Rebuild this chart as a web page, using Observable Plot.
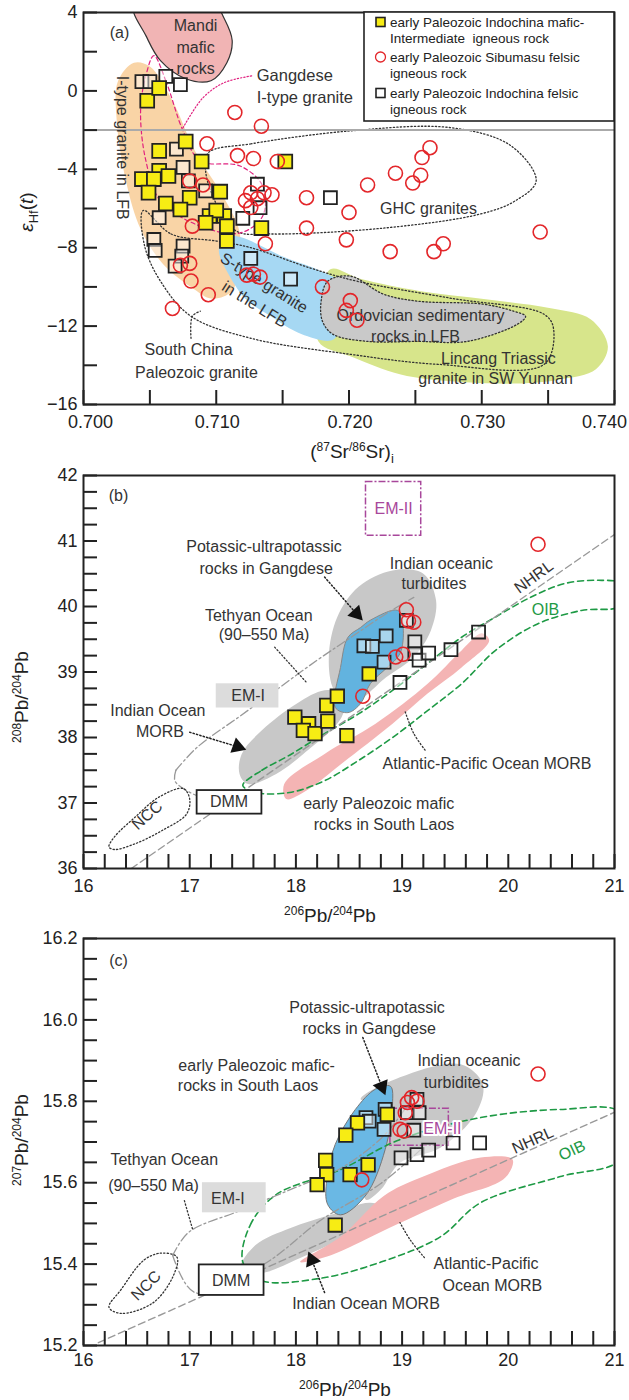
<!DOCTYPE html>
<html><head><meta charset="utf-8">
<script src="https://cdn.jsdelivr.net/npm/d3@7"></script>
<script src="https://cdn.jsdelivr.net/npm/@observablehq/plot@0.6"></script>
<style>
body{margin:0;background:#fff;font-family:"Liberation Sans",Arial,sans-serif;}
#wrap{position:relative;width:629px;height:1400px;overflow:hidden;}
.panel{position:absolute;left:0;}
</style></head>
<body><div id="wrap"></div>
<script>
// ---------------- DATA: panel (a) ----------------
const aTicksXFirst = [0.700];
const aTicksXMid = [0.710, 0.720, 0.730];
const aTicksXLast = [0.740];
const aTicksY = [-16, -12, -8, -4, 0, 4];
const aIndochinaMafic = [[0.7048,-0.5],[0.7057,0.15],[0.7077,-2.58],[0.7057,-3.06],[0.7089,-3.6],[0.7152,-3.6],[0.7057,-4.08],[0.7044,-4.5],[0.7053,-4.5],[0.7064,-4.34],[0.7049,-5.19],[0.7062,-5.75],[0.7080,-5.45],[0.7073,-6.05],[0.7103,-5.14],[0.7095,-6.38],[0.7106,-6.38],[0.7100,-6.1],[0.7092,-6.73],[0.7108,-6.9],[0.7134,-7.0],[0.7108,-7.66]];
const aSibumasuFelsic = [[0.7114,-1.1],[0.7134,-1.8],[0.7093,-2.7],[0.7116,-3.3],[0.7128,-3.45],[0.7146,-3.6],[0.7080,-4.6],[0.7090,-4.8],[0.7126,-5.2],[0.7136,-5.2],[0.7142,-5.3],[0.7131,-5.5],[0.7126,-5.95],[0.7122,-5.6],[0.7168,-5.45],[0.7082,-6.9],[0.7137,-7.8],[0.7168,-7.0],[0.7073,-8.9],[0.7080,-8.8],[0.7081,-9.7],[0.7094,-10.4],[0.7123,-9.4],[0.7128,-9.35],[0.7133,-9.5],[0.7067,-11.1],[0.7261,-2.9],[0.7255,-3.4],[0.7235,-4.2],[0.7254,-4.3],[0.7248,-4.7],[0.7214,-4.8],[0.7200,-6.2],[0.7198,-7.6],[0.7231,-8.2],[0.7264,-8.2],[0.7271,-7.8],[0.7344,-7.2],[0.7180,-10.0],[0.7201,-10.7],[0.7198,-11.2],[0.7206,-11.7]];
const aIndochinaFelsic = [[0.7044,0.47],[0.7050,0.47],[0.7062,0.74],[0.7073,0.32],[0.7070,-2.97],[0.7075,-3.9],[0.7079,-4.59],[0.7057,-6.47],[0.7092,-5.1],[0.7131,-4.76],[0.7133,-5.96],[0.7120,-6.5],[0.7053,-7.58],[0.7054,-8.14],[0.7075,-7.92],[0.7074,-8.43],[0.7069,-8.94],[0.7126,-8.55],[0.7156,-9.6],[0.7186,-5.45]];
// fields (outline points, data units)
const aMandi = [[0.7038,4.3],[0.7047,2.82],[0.7058,1.54],[0.7077,0.62],[0.7096,0.52],[0.7108,1.44],[0.7112,2.57],[0.7106,3.69],[0.7100,4.3],[0.7070,4.6]];
const aITypeLFB = [[0.7038,1.44],[0.7050,1.24],[0.7067,-0.5],[0.7084,-3.06],[0.7105,-5.36],[0.7117,-7.05],[0.7118,-8.43],[0.7112,-10.2],[0.7097,-10.6],[0.7081,-10.0],[0.7060,-8.84],[0.7043,-7.05],[0.7032,-4.6],[0.7025,-1.5],[0.7026,0.5]];
const aSTypeLFB = [[0.7105,-7.4],[0.7118,-7.46],[0.7151,-8.48],[0.7179,-9.2],[0.7197,-9.96],[0.7194,-11.75],[0.7188,-12.7],[0.7164,-12.4],[0.7141,-11.5],[0.7122,-10.6],[0.7108,-9.2],[0.7102,-8.2]];
const aLincang = [[0.7186,-9.1],[0.7209,-9.6],[0.7254,-10.22],[0.7303,-10.63],[0.7352,-11.09],[0.7382,-11.65],[0.7395,-13.03],[0.7386,-14.2],[0.7359,-14.72],[0.7327,-14.93],[0.7277,-14.82],[0.7239,-14.47],[0.7201,-13.54],[0.7177,-12.78],[0.7179,-10.73]];
const aOrdovician = [[0.7179,-10.73],[0.7184,-9.71],[0.7201,-9.45],[0.7226,-10.37],[0.7252,-10.73],[0.7301,-10.88],[0.7324,-11.24],[0.7333,-11.5],[0.7327,-11.9],[0.7289,-12.78],[0.7252,-12.78],[0.7214,-12.78],[0.7188,-12.42],[0.7180,-11.75]];
const aSouthChina = [[0.7045,-6.1],[0.7066,-7.3],[0.7100,-7.66],[0.7126,-8.0],[0.7171,-9.04],[0.7206,-9.71],[0.7277,-10.58],[0.7347,-11.4],[0.7354,-12.1],[0.7347,-13.95],[0.7267,-13.95],[0.7201,-13.44],[0.7126,-12.62],[0.7081,-11.5],[0.7058,-9.71],[0.7046,-7.9]];
const aGHC = [[0.7094,-3.16],[0.7126,-2.7],[0.7201,-2.04],[0.7277,-1.88],[0.7322,-2.8],[0.7341,-4.59],[0.7325,-5.62],[0.7299,-6.28],[0.7226,-7.0],[0.7141,-7.3],[0.7115,-7.15],[0.7099,-5.62],[0.7092,-4.08]];
const aGangdese = [[0.7053,1.8],[0.7062,0.52],[0.7075,-2.04],[0.7088,-3.57],[0.7118,-3.83],[0.7135,-4.85],[0.7135,-6.38],[0.7118,-7.25],[0.7088,-6.9],[0.7058,-5.62],[0.7047,-3.57],[0.7043,-1.01],[0.7047,0.78]];
const aGangdeseLeader = [[0.7075,-1.88],[0.7090,-0.35],[0.7106,0.42],[0.7128,0.78]];
const aSouthChinaLeader = [[0.7081,-12.62],[0.7082,-11.5],[0.7088,-11.24]];
const aLevel = [-2];
const aLabels = [[0.70271,2.98,"(a)"],[0.70844,3.34,"Mandi"],[0.70844,2.21,"mafic"],[0.70844,1.14,"rocks"],[0.72599,-6.03,"GHC granites"],[0.72539,-11.5,"Ordovician sedimentary"],[0.72501,-12.57,"rocks in LFB"],[0.73126,-13.65,"Lincang Triassic"],[0.73104,-14.67,"granite in SW Yunnan"],[0.70791,-13.19,"South China"],[0.70851,-14.41,"Paleozoic granite"]];
const aLabelsStart = [[0.71305,0.78,"Gangdese"],[0.71305,-0.33,"I-type granite"]];
const aLabelsVertical = [[0.70294,-2.9,"I-type granite in LFB"]];
const aLabelsSType = [[0.7136,-9.8,"S-type granite"],[0.71288,-10.9,"in the LFB"]];

// ---------------- DATA: panel (b) ----------------
const pbTicksX = [16, 17, 18, 19, 20, 21];
const bTicksY = [36, 37, 38, 39, 40, 41, 42];
const bIndochinaMafic = [[17.99,38.31],[18.12,38.21],[18.07,38.11],[18.18,38.06],[18.30,38.25],[18.29,38.49],[18.39,38.63],[18.48,38.03],[18.69,38.97]];
const bIndochinaFelsic = [[18.64,39.40],[18.72,39.39],[18.85,39.55],[18.83,39.15],[18.98,38.84],[19.04,39.79],[19.12,39.46],[19.12,39.28],[19.16,39.18],[19.25,39.29],[19.46,39.34],[19.72,39.61]];
const bSibumasuFelsic = [[19.04,39.95],[19.06,39.78],[19.11,39.76],[18.94,39.23],[19.01,39.27],[18.63,38.63],[20.28,40.95]];
const bTurbidites = [[18.39,39.84],[18.59,40.3],[18.91,40.55],[19.20,40.5],[19.32,40.09],[19.27,39.63],[19.11,39.23],[18.85,38.92],[18.52,38.51],[18.36,38.72],[18.31,39.23]];
const bPotassic = [[18.96,39.94],[19.01,39.68],[18.98,39.28],[18.86,39.07],[18.70,38.82],[18.61,38.52],[18.49,38.38],[18.37,38.46],[18.42,39.07],[18.49,39.53],[18.61,39.68],[18.70,39.79]];
const bIndianMORB = [[17.47,37.44],[17.49,37.75],[17.68,38.11],[18.01,38.52],[18.27,38.72],[18.46,38.67],[18.43,38.31],[18.07,37.75],[17.81,37.44],[17.55,37.29]];
const bAtlPacMORB = [[17.91,37.06],[17.89,37.29],[18.27,37.75],[18.75,38.21],[19.24,38.82],[19.56,39.33],[19.75,39.59],[19.82,39.48],[19.56,39.07],[19.24,38.67],[18.91,38.21],[18.43,37.6],[18.10,37.19]];
const bOIB = [[17.50,37.27],[17.68,37.5],[17.94,37.73],[18.27,38.06],[18.59,38.36],[18.91,38.72],[19.24,39.13],[19.56,39.53],[19.88,39.84],[20.21,40.14],[20.53,40.35],[20.85,40.4],[21.05,40.35],[21.05,40.01],[20.69,39.94],[20.27,39.73],[19.88,39.33],[19.56,38.82],[19.24,38.41],[18.91,38.0],[18.59,37.65],[18.27,37.34],[17.94,37.16],[17.62,37.16]];
const bNCC = [[16.24,36.33],[16.29,36.48],[16.49,36.79],[16.71,37.09],[16.94,37.22],[17.0,37.06],[16.97,36.83],[16.74,36.58],[16.49,36.38],[16.29,36.29]];
const bNHRL = [[16.45,36.0],[21.0,41.1]];
const bTethyanUpper = [[16.87,37.50],[17.07,37.85],[17.46,38.31],[17.81,38.72],[18.20,39.18],[18.52,39.53],[18.85,39.89],[19.11,40.14]];
const bTethyanLower = [[16.87,37.50],[16.86,37.34],[16.97,37.19],[17.07,37.11]];
const bDMM = [17.07, 17.68, 36.83, 37.19];
const bEM1 = [17.25, 17.84, 38.45, 38.82];
const bEM2 = [18.66, 19.18, 41.08, 41.9];
const bArrowPotassic = [[18.27,40.45],[18.57,39.89]];
const bArrowIndianMORB = [[17.0,38.08],[17.45,37.86]];
const bLeaderTethyan = [[17.80,39.38],[18.10,38.84]];
const bLeaderAtlPac = [[19.03,38.39],[19.11,38.06],[19.22,37.80]];
const bLabels = [[16.33,41.69,"(b)"],[17.70,40.91,"Potassic-ultrapotassic"],[17.72,40.58,"rocks in Gangdese"],[19.37,40.65,"Indian oceanic"],[19.30,40.35,"turbidites"],[17.65,39.86,"Tethyan Ocean"],[17.70,39.56,"(90–550 Ma)"],[17.55,38.64,"EM-I"],[16.70,38.41,"Indian Ocean"],[16.72,38.08,"MORB"],[19.80,37.6,"Atlantic-Pacific Ocean MORB"],[18.78,36.99,"early Paleozoic mafic"],[18.83,36.66,"rocks in South Laos"],[17.37,37.01,"DMM"]];
const bLabelEM2 = [[18.92,41.49,"EM-II"]];
const bLabelOIB = [[20.35,39.95,"OIB"]];
const bLabelNHRL = [[20.24,40.45,"NHRL"]];
const bLabelNCC = [[16.60,36.81,"NCC"]];

// ---------------- DATA: panel (c) ----------------
const cTicksY = [15.2, 15.4, 15.6, 15.8, 16.0, 16.2];
const cIndochinaMafic = [[18.86,15.768],[18.58,15.747],[18.47,15.717],[18.28,15.655],[18.29,15.620],[18.20,15.595],[18.51,15.620],[18.68,15.644],[18.37,15.496]];
const cIndochinaFelsic = [[18.66,15.760],[18.84,15.780],[18.83,15.731],[18.69,15.751],[19.05,15.772],[19.14,15.805],[19.16,15.772],[19.11,15.729],[18.99,15.661],[19.14,15.669],[19.25,15.680],[19.48,15.698],[19.73,15.698]];
const cSibumasuFelsic = [[19.09,15.809],[19.14,15.80],[19.05,15.797],[19.03,15.772],[18.98,15.731],[19.02,15.727],[18.62,15.607],[20.28,15.867]];
const cTurbidites = [[18.61,15.805],[18.98,15.859],[19.55,15.891],[19.76,15.842],[19.69,15.768],[19.36,15.686],[18.98,15.649],[18.80,15.583],[18.66,15.558],[18.70,15.681],[18.80,15.793]];
const cPotassic = [[18.89,15.837],[18.91,15.793],[18.84,15.681],[18.66,15.570],[18.42,15.521],[18.30,15.546],[18.29,15.607],[18.37,15.694],[18.56,15.780],[18.75,15.830]];
const cIndianMORB = [[17.48,15.390],[17.62,15.447],[17.95,15.489],[18.33,15.521],[18.70,15.551],[18.87,15.533],[18.75,15.496],[18.42,15.459],[18.04,15.415],[17.67,15.378]];
const cAtlPacMORB = [[18.04,15.405],[18.42,15.467],[18.83,15.568],[19.17,15.612],[19.74,15.662],[20.04,15.657],[19.97,15.612],[19.46,15.558],[18.80,15.479],[18.33,15.422]];
const cOIB = [[17.50,15.405],[17.57,15.496],[17.81,15.570],[18.42,15.632],[18.98,15.706],[19.74,15.760],[20.49,15.780],[21.05,15.773],[21.05,15.657],[20.49,15.615],[19.74,15.551],[19.36,15.467],[18.80,15.405],[18.23,15.365],[17.67,15.360]];
const cNCC = [[16.24,15.294],[16.35,15.336],[16.57,15.410],[16.73,15.427],[16.88,15.417],[16.84,15.368],[16.65,15.304],[16.35,15.279]];
const cNHRL = [[16.14,15.207],[21.0,15.773]];
const cTethyanUpper = [[16.84,15.421],[16.99,15.478],[17.48,15.532],[18.04,15.593],[18.42,15.635],[18.83,15.716],[19.08,15.802]];
const cTethyanLower = [[16.84,15.421],[17.05,15.33],[17.70,15.40],[18.23,15.507],[18.80,15.598],[19.17,15.68]];
const cDMM = [17.09, 17.70, 15.323, 15.398];
const cEM1 = [17.12, 17.72, 15.526, 15.600];
const cEM2 = [18.89, 19.44, 15.691, 15.782];
const cArrowPotassic = [[18.63,15.957],[18.81,15.836]];
const cArrowIndianMORB = [[18.27,15.330],[18.15,15.41]];
const cLeaderTethyan = [[16.95,15.556],[17.03,15.483]];
const cLeaderAtlPac = [[19.21,15.416],[19.08,15.458],[18.98,15.502]];
const cLabels = [[16.33,16.146,"(c)"],[18.67,16.030,"Potassic-ultrapotassic"],[18.69,15.979,"rocks in Gangdese"],[19.63,15.900,"Indian oceanic"],[19.51,15.846,"turbidites"],[17.63,15.888,"early Paleozoic mafic-"],[17.55,15.839,"rocks in South Laos"],[16.76,15.655,"Tethyan Ocean"],[16.66,15.592,"(90–550 Ma)"],[17.36,15.561,"EM-I"],[19.79,15.401,"Atlantic-Pacific"],[19.85,15.347,"Ocean MORB"],[18.66,15.303,"Indian Ocean MORB"],[17.39,15.360,"DMM"]];
const cLabelEM2 = [[19.38,15.732,"EM-II"]];
const cLabelOIB = [[20.60,15.679,"OIB"]];
const cLabelNHRL = [[20.23,15.704,"NHRL"]];
const cLabelNCC = [[16.59,15.347,"NCC"]];

const legendItems = [
  ["early Paleozoic Indochina mafic-", "Intermediate  igneous rock"],
  ["early Paleozoic Sibumasu felsic", "igneous rock"],
  ["early Paleozoic Indochina felsic", "igneous rock"]
];

// ---------------- STYLE / HELPERS ----------------
const FONT = '"Liberation Sans", Arial, Helvetica, sans-serif';
const INK = "#222", TXT = "#333";
const YELLOW = "#f7ec14", RED = "#e3262a";
const W = 629, ML = 83, MR = 15, PW = W - ML - MR;
const P = d => d[0], Q = d => d[1];
const dotted = {stroke: "#333", strokeDasharray: "1.3 2.2", strokeWidth: 1.3};

const shape = (pts, o) => Plot.line(pts, {x: P, y: Q, curve: "catmull-rom-closed", clip: true, stroke: "none", ...o});
const path = (pts, o) => Plot.line(pts, {x: P, y: Q, curve: "catmull-rom", clip: true, stroke: INK, strokeWidth: 1.2, ...o});
const box = (b, o) => Plot.rect([b], {x1: d => d[0], x2: d => d[1], y1: d => d[2], y2: d => d[3], ...o});
const labels = (arr, o) => Plot.text(arr, {x: P, y: Q, text: d => d[2], fontSize: 16, fill: TXT, ...o});
const head = (pts, rot) => Plot.dot([pts[pts.length - 1]], {x: P, y: Q, symbol: "triangle", r: 6, fill: "#111", stroke: "none", rotate: rot});
const felsicSq = (d, r) => Plot.dot(d, {x: P, y: Q, symbol: "square", r, stroke: INK, strokeWidth: 1.8, fill: "white", fillOpacity: 0.45});
const maficSq = (d, r) => Plot.dot(d, {x: P, y: Q, symbol: "square", r, stroke: INK, strokeWidth: 1.8, fill: YELLOW});
const circ = (d, r) => Plot.dot(d, {x: P, y: Q, r, stroke: RED, strokeWidth: 1.6, fill: "none"});

function axes({ph, xMinor, xMajorGroups, yMinor, yMajor, xFmt, yFmt, xPad}) {
  return [
    Plot.tickX(xMinor, {x: d => d, insetTop: ph - 14, stroke: INK, strokeWidth: 2}),
    Plot.tickY(yMinor, {y: d => d, insetRight: PW - 14, stroke: INK, strokeWidth: 2}),
    ...xMajorGroups.map(([ticks, dx]) => Plot.axisX({ticks, dx, tickSize: 0, tickPadding: xPad, tickFormat: xFmt, fontSize: 18, label: null})),
    Plot.axisY({ticks: yMajor, tickSize: 0, tickPadding: 6, tickFormat: yFmt, fontSize: 18, label: null}),
    Plot.frame({stroke: INK, strokeWidth: 2})
  ];
}
const minus = d => (d < 0 ? "\u2212" + Math.abs(d) : String(d));
const baseStyle = {fontFamily: FONT, color: INK, overflow: "visible", background: "transparent"};

// ---------------- PANEL (a) ----------------
const aH = 462, aMT = 12, aMB = 58;
const pa = Plot.plot({
  width: W, height: aH, marginLeft: ML, marginRight: MR, marginTop: aMT, marginBottom: aMB,
  x: {domain: [0.700, 0.740]}, y: {domain: [-16, 4]}, style: baseStyle,
  marks: [
    shape(aITypeLFB, {fill: "#f9d4a6"}),
    shape(aLincang, {fill: "#d7e58b"}),
    shape(aSTypeLFB, {fill: "#a6d8f3"}),
    shape(aOrdovician, {fill: "#c9c9c9", ...dotted}),
    shape(aSouthChina, {fill: "none", ...dotted}),
    shape(aGHC, {fill: "none", ...dotted}),
    shape(aMandi, {fill: "#f1b4b4", stroke: "#333", strokeWidth: 1.2}),
    shape(aGangdese, {fill: "none", stroke: "#e0207f", strokeDasharray: "4 3", strokeWidth: 1.2}),
    path(aGangdeseLeader, {stroke: "#e0207f", strokeDasharray: "1.3 2"}),
    path(aSouthChinaLeader, dotted),
    Plot.ruleY(aLevel, {stroke: "#aaa", strokeWidth: 2}),
    labels(aLabels),
    labels(aLabelsStart, {textAnchor: "start", fontSize: 16.5}),
    labels(aLabelsVertical, {rotate: 90}),
    labels(aLabelsSType, {rotate: 32}),
    felsicSq(aIndochinaFelsic, 7.3),
    maficSq(aIndochinaMafic, 7.8),
    circ(aSibumasuFelsic, 7),
    ...axes({ph: aH - aMT - aMB, xMinor: d3.range(0.700, 0.7401, 0.005),
      xMajorGroups: [[aTicksXFirst, 7], [aTicksXMid, 1], [aTicksXLast, -10]],
      yMinor: d3.range(-16, 4.01, 2), yMajor: aTicksY, xFmt: d3.format(".3f"), yFmt: minus, xPad: 11})
  ]
});

// ---------------- PANEL (b) ----------------
const bH = 466, bMT = 13, bMB = 60;
const pb = Plot.plot({
  width: W, height: bH, marginLeft: ML, marginRight: MR, marginTop: bMT, marginBottom: bMB,
  x: {domain: [16, 21]}, y: {domain: [36, 42]}, style: baseStyle,
  marks: [
    shape(bTurbidites, {fill: "#c8c8c8"}),
    shape(bIndianMORB, {fill: "#c8c8c8"}),
    shape(bPotassic, {fill: "#62b3df", stroke: "#888", strokeWidth: 1}),
    shape(bAtlPacMORB, {fill: "#f4b4b4"}),
    shape(bOIB, {fill: "none", stroke: "#1e9a45", strokeDasharray: "6 4", strokeWidth: 1.6}),
    path(bNHRL, {stroke: "#999", strokeDasharray: "7 4", strokeWidth: 1.4, curve: "linear"}),
    path(bTethyanUpper, {stroke: "#999", strokeDasharray: "9 3 2 3", strokeWidth: 1.3}),
    path(bTethyanLower, {stroke: "#999", strokeDasharray: "9 3 2 3", strokeWidth: 1.3}),
    shape(bNCC, {fill: "none", ...dotted}),
    box(bEM1, {fill: "#dcdcdc"}),
    box(bDMM, {fill: "white", stroke: INK, strokeWidth: 1.8}),
    box(bEM2, {fill: "none", stroke: "#a8479b", strokeDasharray: "7 2 2 2", strokeWidth: 1.5}),
    path(bArrowPotassic, {...dotted, stroke: "#222", strokeWidth: 1.5, curve: "linear"}),
    head(bArrowPotassic, 137),
    path(bArrowIndianMORB, {...dotted, stroke: "#222", strokeWidth: 1.5, curve: "linear"}),
    head(bArrowIndianMORB, 110),
    path(bLeaderTethyan, {...dotted, curve: "linear"}),
    path(bLeaderAtlPac, dotted),
    labels(bLabels),
    labels(bLabelEM2, {fill: "#a8479b"}),
    labels(bLabelOIB, {fill: "#1e9a45"}),
    labels(bLabelNHRL, {rotate: -36}),
    labels(bLabelNCC, {rotate: -42}),
    felsicSq(bIndochinaFelsic, 7.3),
    maficSq(bIndochinaMafic, 7.6),
    circ(bSibumasuFelsic, 7),
    ...axes({ph: bH - bMT - bMB, xMinor: d3.range(16, 21.01, 0.2), xMajorGroups: [[pbTicksX, 0]],
      yMinor: d3.range(36, 42.01, 0.25), yMajor: bTicksY, xFmt: d3.format("d"), yFmt: d3.format("d"), xPad: 11})
  ]
});

// ---------------- PANEL (c) ----------------
const cH = 472, cMT = 10, cMB = 55;
const pc = Plot.plot({
  width: W, height: cH, marginLeft: ML, marginRight: MR, marginTop: cMT, marginBottom: cMB,
  x: {domain: [16, 21]}, y: {domain: [15.2, 16.2]}, style: baseStyle,
  marks: [
    shape(cTurbidites, {fill: "#c8c8c8"}),
    shape(cIndianMORB, {fill: "#c8c8c8"}),
    shape(cAtlPacMORB, {fill: "#f4b4b4"}),
    shape(cPotassic, {fill: "#6ab8e4", stroke: "#777", strokeWidth: 1}),
    shape(cOIB, {fill: "none", stroke: "#1e9a45", strokeDasharray: "6 4", strokeWidth: 1.6}),
    path(cNHRL, {stroke: "#999", strokeDasharray: "7 4", strokeWidth: 1.4, curve: "linear"}),
    path(cTethyanUpper, {stroke: "#999", strokeDasharray: "9 3 2 3", strokeWidth: 1.3}),
    path(cTethyanLower, {stroke: "#999", strokeDasharray: "9 3 2 3", strokeWidth: 1.3}),
    shape(cNCC, {fill: "none", ...dotted}),
    box(cEM1, {fill: "#dcdcdc"}),
    box(cDMM, {fill: "white", stroke: INK, strokeWidth: 1.8}),
    box(cEM2, {fill: "none", stroke: "#a8479b", strokeDasharray: "7 2 2 2", strokeWidth: 1.5}),
    path(cArrowPotassic, {...dotted, stroke: "#222", strokeWidth: 1.5, curve: "linear"}),
    head(cArrowPotassic, 158),
    path(cArrowIndianMORB, {...dotted, stroke: "#222", strokeWidth: 1.5, curve: "linear"}),
    head(cArrowIndianMORB, -22),
    path(cLeaderTethyan, {...dotted, curve: "linear"}),
    path(cLeaderAtlPac, dotted),
    labels(cLabels),
    labels(cLabelOIB, {fill: "#1e9a45", rotate: -25}),
    labels(cLabelNHRL, {rotate: -24}),
    labels(cLabelNCC, {rotate: -45}),
    felsicSq(cIndochinaFelsic, 7.3),
    maficSq(cIndochinaMafic, 7.6),
    circ(cSibumasuFelsic, 7),
    labels(cLabelEM2, {fill: "#a8479b", stroke: "white", strokeWidth: 4}),
    ...axes({ph: cH - cMT - cMB, xMinor: d3.range(16, 21.01, 0.2), xMajorGroups: [[pbTicksX, 0]],
      yMinor: d3.range(15.2, 16.201, 0.05), yMajor: cTicksY, xFmt: d3.format("d"), yFmt: d3.format(".1f"), xPad: 8})
  ]
});

// ---------------- LAYOUT ----------------
const wrap = document.getElementById("wrap");
[[pa, 0], [pb, 462], [pc, 928]].forEach(([svg, top]) => {
  const div = document.createElement("div");
  div.className = "panel"; div.style.top = top + "px";
  div.appendChild(svg); wrap.appendChild(div);
});

// axis titles with super/subscripts
function title(svg, x, y, rot, parts) {
  const t = d3.select(svg).append("text")
    .attr("transform", `translate(${x},${y})` + (rot ? ` rotate(${rot})` : ""))
    .attr("text-anchor", "middle").attr("font-family", FONT).attr("font-size", 19).attr("fill", INK);
  parts.forEach(([s, kind]) => {
    const ts = t.append("tspan").text(s);
    if (kind === "sup") ts.attr("font-size", 12).attr("dy", -7);
    if (kind === "supEnd") ts.attr("dy", 7);
    if (kind === "sub") ts.attr("font-size", 13).attr("dy", 5);
    if (kind === "subEnd") ts.attr("dy", -5);
    if (kind === "it") ts.attr("font-style", "italic");
  });
}
title(pa, 352, 458, 0, [["(", ""], ["87", "sup"], ["Sr", "supEnd"], ["/86", "sup"], ["Sr)", "supEnd"], ["i", "sub"]]);
title(pa, 33, 212, -90, [["ε", "it"], ["Hf", "sub"], ["(", "subEnd"], ["t", "it"], [")", ""]]);
title(pb, 330, 460, 0, [["206", "sup"], ["Pb", "supEnd"], ["/", ""], ["204", "sup"], ["Pb", "supEnd"]]);
title(pb, 28, 235, -90, [["208", "sup"], ["Pb", "supEnd"], ["/", ""], ["204", "sup"], ["Pb", "supEnd"]]);
title(pc, 345, 468, 0, [["206", "sup"], ["Pb", "supEnd"], ["/", ""], ["204", "sup"], ["Pb", "supEnd"]]);
title(pc, 28, 212, -90, [["207", "sup"], ["Pb", "supEnd"], ["/", ""], ["204", "sup"], ["Pb", "supEnd"]]);

// legend in panel (a)
(function legend() {
  const g = d3.select(pa).append("g").attr("font-family", FONT).attr("font-size", 13.5)
    .attr("fill", INK).attr("text-anchor", "start");
  g.append("rect").attr("x", 364).attr("y", 12).attr("width", 250).attr("height", 109)
    .attr("fill", "white").attr("stroke", INK).attr("stroke-width", 1.6);
  const rows = [22, 57, 93];
  rows.forEach((cy, i) => {
    if (i === 0) g.append("rect").attr("x", 376).attr("y", cy - 4.5).attr("width", 9).attr("height", 9).attr("fill", YELLOW).attr("stroke", INK).attr("stroke-width", 1.6);
    if (i === 1) g.append("circle").attr("cx", 380.5).attr("cy", cy).attr("r", 5).attr("fill", "none").attr("stroke", RED).attr("stroke-width", 1.3);
    if (i === 2) g.append("rect").attr("x", 376).attr("y", cy - 4.5).attr("width", 9).attr("height", 9).attr("fill", "white").attr("stroke", INK).attr("stroke-width", 1.6);
    g.append("text").attr("x", 390).attr("y", cy + 5).attr("text-anchor", "start").text(legendItems[i][0]);
    g.append("text").attr("x", 390).attr("y", cy + 21).attr("text-anchor", "start").attr("xml:space", "preserve").text(legendItems[i][1]);
  });
})();
</script>
</body></html>
